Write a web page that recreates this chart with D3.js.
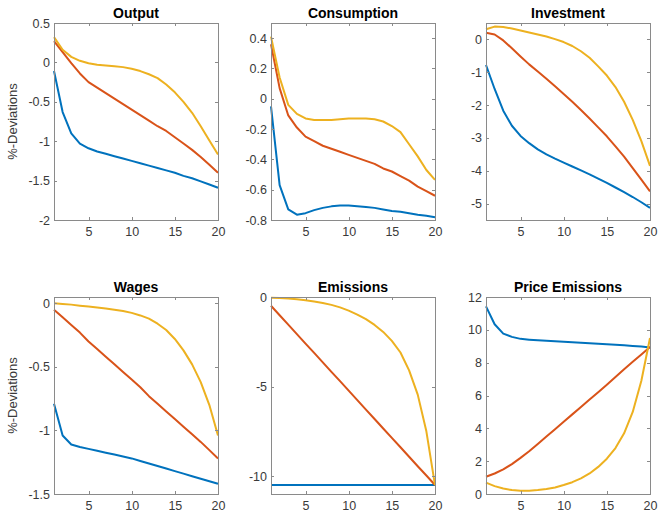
<!DOCTYPE html>
<html>
<head>
<meta charset="utf-8">
<script src="https://cdn.jsdelivr.net/npm/d3@7/dist/d3.min.js"></script>
<style>
  html, body { margin: 0; padding: 0; background: #fff; }
  svg { display: block; font-family: "Liberation Sans", Arial, sans-serif; }
</style>
</head>
<body>
<svg id="chart" width="659" height="514"></svg>
<script>
// Horizon (quarters)
const periods = d3.range(1, 21);

// Panel titles
const titles = ["Output", "Consumption", "Investment", "Wages", "Emissions", "Price Emissions"];

// Y-axis limits and tick values per panel
const yDomains = [[-2, 0.5], [-0.8, 0.5], [-5.5, 0.5], [-1.5, 0.05], [-11, 0], [0, 12]];
const yTicks = [
  [0.5, 0, -0.5, -1, -1.5, -2],
  [0.4, 0.2, 0, -0.2, -0.4, -0.6, -0.8],
  [0, -1, -2, -3, -4, -5],
  [0, -0.5, -1, -1.5],
  [0, -5, -10],
  [0, 2, 4, 6, 8, 10, 12]
];
const xTicks = [5, 10, 15, 20];

// Scenario 1 (blue)
const seriesBlue = [
  [-0.11, -0.63, -0.90, -1.03, -1.09, -1.13, -1.16, -1.19, -1.22, -1.25, -1.28, -1.31, -1.34, -1.37, -1.40, -1.44, -1.47, -1.51, -1.55, -1.59],
  [-0.05, -0.57, -0.73, -0.765, -0.755, -0.735, -0.72, -0.71, -0.705, -0.705, -0.71, -0.715, -0.72, -0.73, -0.74, -0.745, -0.755, -0.765, -0.772, -0.782],
  [-0.78, -1.51, -2.17, -2.63, -2.94, -3.16, -3.35, -3.50, -3.63, -3.75, -3.87, -3.99, -4.11, -4.24, -4.37, -4.51, -4.65, -4.80, -4.96, -5.13],
  [-0.79, -1.04, -1.11, -1.13, -1.145, -1.16, -1.175, -1.19, -1.205, -1.22, -1.24, -1.26, -1.28, -1.30, -1.32, -1.34, -1.36, -1.38, -1.40, -1.42],
  [-10.5, -10.5, -10.5, -10.5, -10.5, -10.5, -10.5, -10.5, -10.5, -10.5, -10.5, -10.5, -10.5, -10.5, -10.5, -10.5, -10.5, -10.5, -10.5, -10.5],
  [11.43, 10.34, 9.77, 9.57, 9.45, 9.40, 9.36, 9.33, 9.30, 9.27, 9.24, 9.21, 9.18, 9.15, 9.12, 9.09, 9.06, 9.02, 8.98, 8.93]
];

// Scenario 2 (orange)
const seriesOrange = [
  [0.27, 0.13, -0.01, -0.14, -0.25, -0.32, -0.39, -0.46, -0.53, -0.60, -0.67, -0.74, -0.81, -0.87, -0.95, -1.03, -1.11, -1.20, -1.30, -1.40],
  [0.36, 0.07, -0.11, -0.19, -0.25, -0.28, -0.31, -0.33, -0.35, -0.37, -0.39, -0.41, -0.43, -0.46, -0.48, -0.51, -0.54, -0.58, -0.61, -0.64],
  [0.20, 0.15, -0.03, -0.27, -0.52, -0.76, -0.98, -1.20, -1.43, -1.66, -1.90, -2.15, -2.41, -2.68, -2.95, -3.26, -3.57, -3.92, -4.27, -4.63],
  [-0.05, -0.11, -0.17, -0.23, -0.30, -0.36, -0.42, -0.48, -0.54, -0.60, -0.66, -0.73, -0.79, -0.85, -0.91, -0.97, -1.03, -1.09, -1.155, -1.22],
  [-0.49, -1.02, -1.54, -2.07, -2.60, -3.12, -3.65, -4.18, -4.70, -5.23, -5.76, -6.29, -6.81, -7.34, -7.87, -8.39, -8.92, -9.45, -9.97, -10.5],
  [1.05, 1.25, 1.50, 1.82, 2.20, 2.60, 3.05, 3.50, 3.95, 4.40, 4.85, 5.30, 5.75, 6.20, 6.65, 7.12, 7.60, 8.05, 8.50, 8.95]
];

// Scenario 3 (yellow)
const seriesYellow = [
  [0.32, 0.16, 0.07, 0.02, -0.01, -0.03, -0.04, -0.05, -0.06, -0.08, -0.11, -0.15, -0.20, -0.28, -0.38, -0.50, -0.64, -0.81, -0.99, -1.17],
  [0.41, 0.14, -0.04, -0.10, -0.13, -0.14, -0.14, -0.14, -0.135, -0.13, -0.13, -0.13, -0.135, -0.15, -0.18, -0.22, -0.30, -0.38, -0.47, -0.535],
  [0.31, 0.39, 0.38, 0.33, 0.27, 0.21, 0.15, 0.09, 0.01, -0.08, -0.20, -0.36, -0.56, -0.82, -1.10, -1.45, -1.90, -2.45, -3.10, -3.85],
  [0.0, -0.005, -0.01, -0.018, -0.025, -0.032, -0.04, -0.05, -0.06, -0.075, -0.095, -0.12, -0.16, -0.21, -0.28, -0.37, -0.48, -0.62, -0.80, -1.04],
  [-0.04, -0.06, -0.09, -0.13, -0.18, -0.25, -0.33, -0.44, -0.58, -0.76, -0.98, -1.24, -1.56, -1.95, -2.45, -3.10, -4.10, -5.45, -7.50, -10.5],
  [0.69, 0.48, 0.33, 0.24, 0.20, 0.20, 0.24, 0.30, 0.40, 0.55, 0.72, 0.95, 1.25, 1.65, 2.15, 2.80, 3.70, 5.00, 6.90, 9.50]
];

const lineColors = ["#0072BD", "#D95319", "#EDB120"];

// Grid of axes: three columns, two rows
const colLeft = [54, 271, 486];
const rowTop = [23, 297];
const plotW = 164, plotH = 197;
const axisColor = "#8a8a8a";
const textColor = "#3a3a3a";
const tickLen = 3;

const svg = d3.select("#chart");

titles.forEach((title, i) => {
  const col = i % 3, row = Math.floor(i / 3);
  const g = svg.append("g").attr("transform", `translate(${colLeft[col]},${rowTop[row]})`);

  const x = d3.scaleLinear().domain([1, 20]).range([0, plotW]);
  const y = d3.scaleLinear().domain(yDomains[i]).range([plotH, 0]);

  // Lines, blue first so yellow sits on top
  const line = d3.line().x((d, k) => x(periods[k])).y(d => y(d));
  [seriesBlue[i], seriesOrange[i], seriesYellow[i]].forEach((vals, s) => {
    g.append("path")
      .datum(vals)
      .attr("d", line)
      .attr("fill", "none")
      .attr("stroke", lineColors[s])
      .attr("stroke-width", 2)
      .attr("stroke-linejoin", "round");
  });

  // Box outline
  g.append("rect")
    .attr("x", 0).attr("y", 0).attr("width", plotW).attr("height", plotH)
    .attr("fill", "none").attr("stroke", axisColor).attr("stroke-width", 1)
    .attr("shape-rendering", "crispEdges");

  // Axes with inward ticks
  const fmt = d => String(d);
  const left = g.append("g")
    .call(d3.axisLeft(y).tickValues(yTicks[i]).tickFormat(fmt).tickSizeInner(-tickLen).tickSizeOuter(0).tickPadding(4));
  const right = g.append("g").attr("transform", `translate(${plotW},0)`)
    .call(d3.axisRight(y).tickValues(yTicks[i]).tickFormat("").tickSizeInner(-tickLen).tickSizeOuter(0));
  const bottom = g.append("g").attr("transform", `translate(0,${plotH})`)
    .call(d3.axisBottom(x).tickValues(xTicks).tickFormat(fmt).tickSizeInner(-tickLen).tickSizeOuter(0).tickPadding(7));
  const top = g.append("g")
    .call(d3.axisTop(x).tickValues(xTicks).tickFormat("").tickSizeInner(-tickLen).tickSizeOuter(0));

  [left, right, bottom, top].forEach(a => {
    a.select(".domain").remove();
    a.selectAll(".tick line").attr("stroke", axisColor).attr("shape-rendering", "crispEdges");
    a.selectAll(".tick text")
      .attr("fill", textColor)
      .style("font-size", "12.5px")
      .style("font-family", "'Liberation Sans', Arial, sans-serif");
  });

  // Title
  g.append("text")
    .attr("x", plotW / 2).attr("y", -5)
    .attr("text-anchor", "middle")
    .style("font-size", "14px")
    .style("font-weight", "bold")
    .attr("fill", "#000")
    .text(title);

  // Shared y label on the left column
  if (col === 0) {
    svg.append("text")
      .attr("transform", `translate(17,${rowTop[row] + plotH / 2}) rotate(-90)`)
      .attr("text-anchor", "middle")
      .style("font-size", "13px")
      .attr("fill", textColor)
      .text("%-Deviations");
  }
});
</script>
</body>
</html>
